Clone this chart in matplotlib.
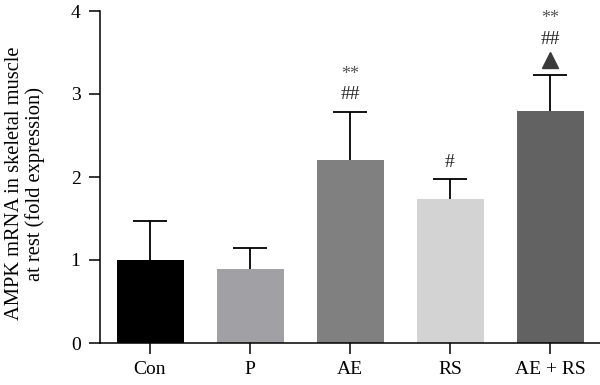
import matplotlib
matplotlib.use("Agg")
import matplotlib.pyplot as plt

categories = ["Con", "P", "AE", "RS", "AE + RS"]
means = [1.00, 0.89, 2.20, 1.73, 2.80]
errors = [0.47, 0.25, 0.58, 0.24, 0.43]
colors = ["#000000", "#a1a1a5", "#808080", "#d3d3d3", "#626262"]
ast_labels = ["", "", "**", "", "**"]
hash_labels = ["", "", "##", "#", "##"]
triangle_flags = [False, False, False, False, True]

plt.rcParams["font.family"] = ["Liberation Serif", "DejaVu Serif"]

fig = plt.figure(figsize=(6, 3.85), dpi=100)
ax = fig.add_axes([100/600, 42/385, 500/600, 332/385])

x = list(range(len(categories)))
ax.bar(x, means, width=0.67, color=colors, zorder=2)
tops = [m + e for m, e in zip(means, errors)]
ax.vlines(x, means, tops, color="black", linewidth=1.3, zorder=3)
ax.hlines(tops, [i - 0.17 for i in x], [i + 0.17 for i in x], color="black",
          linewidth=1.3, zorder=3)

for i in x:
    top = tops[i]
    off = 0.0
    if triangle_flags[i]:
        ax.plot(i, top + 0.18, marker="^", markersize=11, color="#3a3a3a",
                linestyle="none", clip_on=False, zorder=4)
        off = 0.22
    if hash_labels[i]:
        ax.text(i, top + 0.21 + off, hash_labels[i], ha="center", va="center",
                fontsize=14, color="#222222")
    if ast_labels[i]:
        ax.text(i, top + 0.46 + off, ast_labels[i], ha="center", va="center",
                fontsize=13, color="#555555")

ax.set_xlim(-0.5, 4.5)
ax.set_ylim(0, 4)
ax.set_yticks([0, 1, 2, 3, 4])
ax.set_xticks(x)
ax.set_xticklabels(categories)
ax.spines["top"].set_visible(False)
ax.spines["right"].set_visible(False)
ax.spines["left"].set_linewidth(1.1)
ax.spines["bottom"].set_linewidth(1.1)
ax.tick_params(axis="both", direction="out", length=8, width=1.1, labelsize=14)
ax.tick_params(axis="y", pad=6)
ax.tick_params(axis="x", pad=5)
ax.set_ylabel("AMPK mRNA in skeletal muscle\nat rest (fold expression)", fontsize=14.8,
              linespacing=1.1)
ax.yaxis.set_label_coords(-0.11, 0.48)

fig.savefig("out.png", dpi=100)
